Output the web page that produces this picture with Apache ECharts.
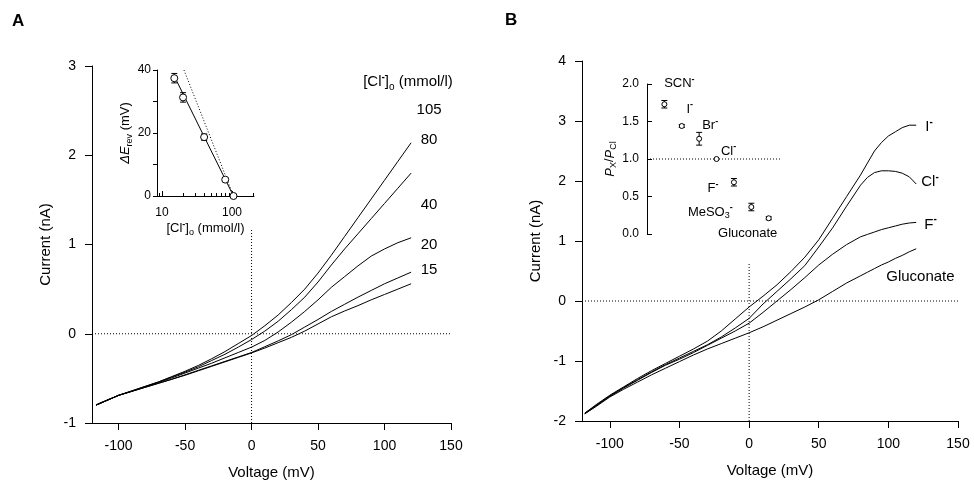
<!DOCTYPE html>
<html>
<head>
<meta charset="utf-8">
<script src="https://cdn.jsdelivr.net/npm/echarts@6/dist/echarts.min.js"></script>
<style>
html,body{margin:0;padding:0;background:#fff;}
#chart{width:974px;height:485px;}
</style>
</head>
<body>
<div id="chart"></div>
<script>
// ---------- DATA ----------
// Panel A: I-V curves at different external [Cl-] (mmol/l)
const voltA = [-117,-110,-100,-90,-80,-70,-60,-50,-40,-30,-20,-10,0,10,20,30,40,50,60,70,80,90,100,110,120];
const curA105 = [-0.795,-0.75,-0.69,-0.64,-0.59,-0.54,-0.48,-0.42,-0.355,-0.28,-0.20,-0.11,-0.02,0.09,0.21,0.35,0.50,0.68,0.88,1.09,1.30,1.51,1.72,1.93,2.14];
const curA80  = [-0.80,-0.755,-0.69,-0.64,-0.59,-0.54,-0.485,-0.43,-0.37,-0.30,-0.23,-0.15,-0.065,0.03,0.14,0.27,0.41,0.58,0.77,0.95,1.12,1.29,1.46,1.63,1.80];
const curA40  = [-0.80,-0.755,-0.69,-0.645,-0.595,-0.545,-0.495,-0.44,-0.385,-0.33,-0.27,-0.21,-0.15,-0.075,0.02,0.13,0.25,0.38,0.52,0.64,0.76,0.87,0.95,1.02,1.075];
const curA20  = [-0.80,-0.755,-0.69,-0.645,-0.60,-0.555,-0.51,-0.46,-0.41,-0.36,-0.31,-0.26,-0.21,-0.145,-0.08,-0.01,0.075,0.16,0.25,0.33,0.41,0.485,0.56,0.625,0.69];
const curA15  = [-0.80,-0.755,-0.69,-0.645,-0.60,-0.555,-0.51,-0.465,-0.415,-0.365,-0.315,-0.265,-0.215,-0.16,-0.10,-0.04,0.03,0.11,0.19,0.255,0.315,0.38,0.44,0.50,0.56];
const labelsA = ['105','80','40','20','15'];

// Panel A inset: reversal potential shift vs [Cl-]o
const concA = [15,20,40,80,105];
const dErevA = [37.4,31.3,18.7,5.2,0];
const errA = [1.5,1.5,1.0,0.6,0];
const fitLineA = [[14.8,38.3],[105,0]];
const nernstLineA = [[20.6,40],[105,0]];

// Panel B: I-V curves with different anions
const voltB = [-118,-110,-100,-90,-80,-70,-60,-50,-40,-30,-20,-10,0,10,20,30,40,50,60,70,80,85,90,95,100,105,110,115,120];
const curBI   = [-1.87,-1.73,-1.57,-1.43,-1.29,-1.16,-1.04,-0.92,-0.80,-0.67,-0.50,-0.30,-0.10,0.08,0.27,0.49,0.73,1.02,1.38,1.74,2.10,2.30,2.50,2.64,2.75,2.82,2.89,2.93,2.93];
const curBCl  = [-1.87,-1.74,-1.58,-1.44,-1.31,-1.18,-1.06,-0.95,-0.84,-0.73,-0.60,-0.45,-0.29,-0.05,0.16,0.37,0.59,0.90,1.22,1.58,1.93,2.06,2.14,2.17,2.17,2.16,2.13,2.07,1.95];
const curBF   = [-1.88,-1.75,-1.59,-1.45,-1.32,-1.19,-1.07,-0.97,-0.86,-0.74,-0.62,-0.50,-0.37,-0.19,0.00,0.19,0.39,0.60,0.78,0.94,1.07,1.11,1.15,1.19,1.22,1.25,1.28,1.30,1.31];
const curBGlu = [-1.88,-1.76,-1.60,-1.47,-1.35,-1.23,-1.12,-1.01,-0.90,-0.80,-0.71,-0.62,-0.53,-0.43,-0.32,-0.21,-0.10,0.02,0.16,0.30,0.42,0.48,0.54,0.60,0.65,0.71,0.76,0.82,0.87];

// Panel B inset: permeability ratios
const anionsB = ['SCN','I','Br','Cl','F','MeSO3','Gluconate'];
const ratioB = [1.73,1.44,1.27,1.00,0.69,0.36,0.21];
const errB = [0.05,0.02,0.085,0,0.05,0.05,0.02];

// Ticks
const xTicksMain = [-100,-50,0,50,100,150];
const insetAMajor = [10,100];
const insetAMinor = [9,20,30,40,50,60,70,80,90,200];

// ---------- STYLE ----------
const FF = 'Liberation Sans, Arial, Helvetica, sans-serif';
const BLACK = '#000';
const richBase = {
  n: {fontSize:15, fontFamily:FF, color:BLACK, lineHeight:20},
  i: {fontSize:15, fontFamily:FF, color:BLACK, lineHeight:20, fontStyle:'italic'},
  sup: {fontSize:10, fontFamily:FF, color:BLACK, lineHeight:10, verticalAlign:'top', fontWeight:'bold'},
  sub: {fontSize:10, fontFamily:FF, color:BLACK, lineHeight:10, verticalAlign:'bottom'}
};
function richSized(s) {
  const r = {};
  for (const k in richBase) {
    const f = richBase[k];
    const scale = s / 15;
    r[k] = Object.assign({}, f, {fontSize: Math.round(f.fontSize*scale), lineHeight: Math.round(f.lineHeight*scale),
      textBorderWidth:0, textBorderColor:'transparent', textShadowBlur:0, opacity:1});
  }
  return r;
}
const rich15 = richSized(15);
const rich13 = richSized(13);

const log10 = Math.log10;
const zip = (xs, ys) => xs.map((x,i) => [x, ys[i]]);

// ---------- OPTION ----------
const axisLineStyle = {show:true, onZero:false, lineStyle:{color:BLACK, width:1}};
const mainAxisLabel = {color:BLACK, fontSize:14, fontFamily:FF};

function mainX(gridIndex) {
  return {
    gridIndex, type:'value', min:-120, max:150, position:'bottom',
    axisLine: axisLineStyle,
    axisTick: {show:true, inside:false, length:7, lineStyle:{color:BLACK}, customValues: xTicksMain},
    axisLabel: Object.assign({margin:16, customValues: xTicksMain}, mainAxisLabel),
    splitLine:{show:false},
    name:'Voltage (mV)', nameLocation:'middle', nameGap:42,
    nameTextStyle:{color:BLACK, fontSize:15, fontFamily:FF}
  };
}
function mainY(gridIndex, min, max) {
  return {
    gridIndex, type:'value', min, max, interval:1, position:'left',
    axisLine: axisLineStyle,
    axisTick: {show:true, inside:false, length:7, lineStyle:{color:BLACK}},
    axisLabel: Object.assign({margin:16}, mainAxisLabel),
    splitLine:{show:false},
    name:'Current (nA)', nameLocation:'middle', nameGap:39,
    nameTextStyle:{color:BLACK, fontSize:15, fontFamily:FF}
  };
}

const dotted = {color:BLACK, width:1, type:[1,2]};

function curve(name, xs, ys, xi, yi, label, offset, align) {
  return {
    name, type:'line', xAxisIndex:xi, yAxisIndex:yi, data: zip(xs, ys),
    showSymbol:false, symbol:'none', silent:true, animation:false,
    lineStyle:{color:BLACK, width:1},
    endLabel:{show:true, formatter: label, distance:0, offset, align: align||'left',
      verticalAlign:'middle', color:BLACK, fontSize:15, fontFamily:FF, rich: rich15}
  };
}
function dotLine(data, xi, yi) {
  return {type:'line', xAxisIndex:xi, yAxisIndex:yi, data, showSymbol:false, symbol:'none',
    silent:true, animation:false, lineStyle: dotted};
}
function errorBars(data, xi, yi, cap) {
  return {
    type:'custom', xAxisIndex:xi, yAxisIndex:yi, data, silent:true, animation:false,
    renderItem: function(params, api) {
      const x = api.value(0), lo = api.value(1), hi = api.value(2);
      if (hi - lo <= 0) return null;
      const p1 = api.coord([x, lo]), p2 = api.coord([x, hi]);
      const st = {stroke:BLACK, lineWidth:1};
      return {type:'group', children:[
        {type:'line', shape:{x1:p1[0], y1:p1[1], x2:p2[0], y2:p2[1]}, style:st},
        {type:'line', shape:{x1:p1[0]-cap, y1:p1[1], x2:p1[0]+cap, y2:p1[1]}, style:st},
        {type:'line', shape:{x1:p2[0]-cap, y1:p2[1], x2:p2[0]+cap, y2:p2[1]}, style:st}
      ]};
    },
    encode:{x:0, y:[1,2]}, z:3
  };
}

// label texts with superscript minus
const supLabel = s => '{n|' + s + '}{sup|-}';
const anionLabelText = [
  '{n|SCN}{sup|-}', '{n|I}{sup|-}', '{n|Br}{sup|-}', '{n|Cl}{sup|-}', '{n|F}{sup|-}',
  '{n|MeSO}{sub|3}{sup|-}', '{n|Gluconate}'
];
const anionLabelOffset = [[15,-18],[8,-14],[11,-10],[12,-5],[-21,9],[-41,8],[-21,18]];

const option = {
  animation:false,
  backgroundColor:'#fff',
  textStyle:{fontFamily:FF},
  grid:[
    {left:92, top:66, width:359, height:357},
    {left:157, top:70, width:97, height:126},
    {left:582, top:61, width:376, height:360},
    {left:647, top:84, width:133, height:150}
  ],
  xAxis:[
    mainX(0),
    { // inset A major
      gridIndex:1, type:'value', min:0.929, max:2.314, position:'bottom',
      axisLine: axisLineStyle,
      axisTick:{show:true, inside:true, length:5, lineStyle:{color:BLACK}, customValues: insetAMajor.map(log10)},
      axisLabel:{color:BLACK, fontSize:12, fontFamily:FF, margin:11, customValues: insetAMajor.map(log10),
        formatter: v => String(Math.round(Math.pow(10, v)))},
      splitLine:{show:false},
      name:'{n|[Cl}{sup|-}{n|]}{sub|o}{n| (mmol/l)}', nameLocation:'middle', nameGap:21,
      nameTextStyle:{rich: rich13}
    },
    mainX(2),
    {gridIndex:3, type:'value', min:0, max:7.65, show:false},
    { // inset A minor ticks
      gridIndex:1, type:'value', min:0.929, max:2.314, position:'bottom',
      axisLine:{show:false, onZero:false},
      axisTick:{show:true, inside:true, length:3, lineStyle:{color:BLACK}, customValues: insetAMinor.map(log10)},
      axisLabel:{show:false}, splitLine:{show:false}
    }
  ],
  yAxis:[
    mainY(0, -1, 3),
    {
      gridIndex:1, type:'value', min:0, max:40, interval:10, position:'left',
      axisLine: axisLineStyle,
      axisTick:{show:true, inside:false, length:4, lineStyle:{color:BLACK}},
      axisLabel:{color:BLACK, fontSize:12, fontFamily:FF, margin:6, formatter: v => (v % 20 === 0 ? String(v) : '')},
      splitLine:{show:false},
      name:'{i|ΔE}{sub|rev}{n| (mV)}', nameLocation:'middle', nameGap:18,
      nameTextStyle:{rich: rich13}
    },
    mainY(2, -2, 4),
    {
      gridIndex:3, type:'value', min:0, max:2, interval:0.5, position:'left',
      axisLine: axisLineStyle,
      axisTick:{show:true, inside:true, length:5, lineStyle:{color:BLACK}},
      axisLabel:{color:BLACK, fontSize:12, fontFamily:FF, margin:8, formatter: v => v.toFixed(1)},
      splitLine:{show:false},
      name:'{i|P}{sub|X}{n|/}{i|P}{sub|Cl}', nameLocation:'middle', nameGap:22,
      nameTextStyle:{rich: rich13}
    }
  ],
  graphic:[
    {type:'text', left:12, top:13, style:{text:'A', fontSize:17, fontWeight:'bold', fontFamily:FF, fill:BLACK}},
    {type:'text', left:505, top:12, style:{text:'B', fontSize:17, fontWeight:'bold', fontFamily:FF, fill:BLACK}},
    {type:'text', x:408, y:82, style:{text:'{n|[Cl}{sup|-}{n|]}{sub|o}{n| (mmol/l)}', rich: rich15,
      align:'center', verticalAlign:'middle'}}
  ],
  series:[
    // Panel A
    dotLine([[-120,0],[150,0]], 0, 0),
    dotLine([[0,-1],[0,1.17]], 0, 0),
    curve('105', voltA, curA105, 0, 0, labelsA[0], [18,-33], 'center'),
    curve('80', voltA, curA80, 0, 0, labelsA[1], [18,-33], 'center'),
    curve('40', voltA, curA40, 0, 0, labelsA[2], [18,-33], 'center'),
    curve('20', voltA, curA20, 0, 0, labelsA[3], [18,-27], 'center'),
    curve('15', voltA, curA15, 0, 0, labelsA[4], [18,-14], 'center'),
    // Inset A
    {type:'line', xAxisIndex:1, yAxisIndex:1, data: fitLineA.map(p => [log10(p[0]), p[1]]),
      showSymbol:false, symbol:'none', silent:true, lineStyle:{color:BLACK, width:1}},
    dotLine(nernstLineA.map(p => [log10(p[0]), p[1]]), 1, 1),
    errorBars(concA.map((c,i) => [log10(c), dErevA[i]-errA[i], dErevA[i]+errA[i]]), 1, 1, 3),
    {type:'scatter', xAxisIndex:1, yAxisIndex:1, data: concA.map((c,i) => [log10(c), dErevA[i]]),
      symbol:'circle', symbolSize:7, silent:true, z:4,
      itemStyle:{color:'#fff', borderColor:BLACK, borderWidth:1, opacity:1}},
    // Panel B
    dotLine([[-120,0],[150,0]], 2, 2),
    dotLine([[0,-2],[0,0.65]], 2, 2),
    curve('I', voltB, curBI, 2, 2, supLabel('I'), [9,2]),
    curve('Cl', voltB, curBCl, 2, 2, supLabel('Cl'), [5,-2]),
    curve('F', voltB, curBF, 2, 2, supLabel('F'), [8,2]),
    curve('Gluconate', voltB, curBGlu, 2, 2, '{n|Gluconate}', [-30,28]),
    // Inset B
    dotLine([[0,1],[7.65,1]], 3, 3),
    errorBars(ratioB.map((r,i) => [i+1, r-errB[i], r+errB[i]]), 3, 3, 3),
    {type:'scatter', xAxisIndex:3, yAxisIndex:3, silent:true, z:4,
      symbol:'circle', symbolSize:5,
      itemStyle:{color:'#fff', borderColor:BLACK, borderWidth:1, opacity:1},
      label:{show:true, position:'top', distance:0, color:BLACK, opacity:1, textBorderWidth:0},
      data: ratioB.map((r,i) => ({
        value:[i+1, r],
        label:{show:true, position:'top', distance:0, formatter: anionLabelText[i], offset: anionLabelOffset[i],
          rich: rich13, color:BLACK, opacity:1, textBorderWidth:0, textBorderColor:'transparent',
          align:'center', verticalAlign:'middle'}
      }))
    }
  ]
};

const chart = echarts.init(document.getElementById('chart'), null, {renderer:'canvas'});
chart.setOption(option);
</script>
</body>
</html>
